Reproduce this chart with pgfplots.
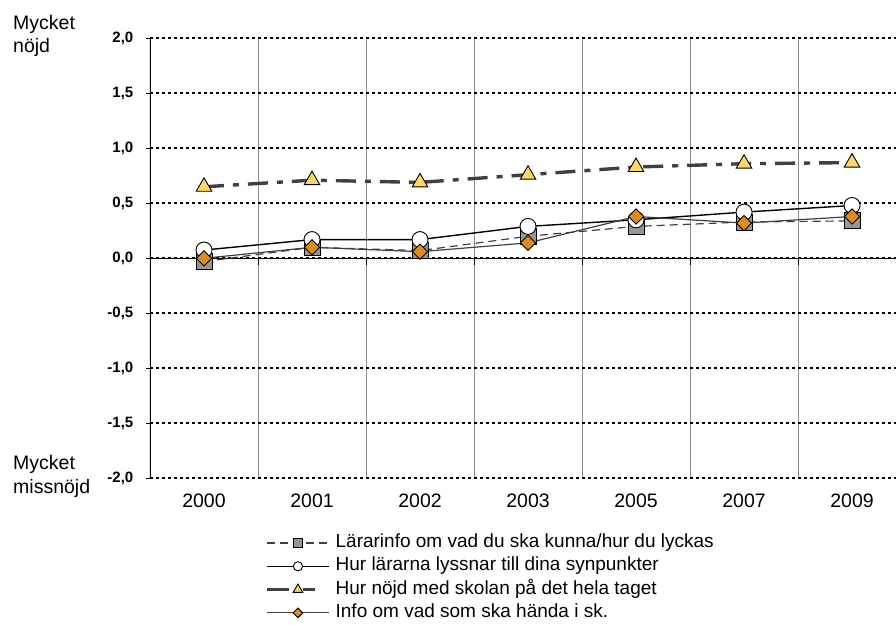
\documentclass[border=0pt]{standalone}
\usepackage{fontspec}
\setmainfont{Liberation Sans}
\usepackage{pgfplots}
\pgfplotsset{compat=1.18}
\definecolor{sqgrey}{RGB}{150,150,150}
\definecolor{trigold}{RGB}{255,215,100}
\definecolor{diaorange}{RGB}{222,140,30}
\definecolor{linegrey}{RGB}{64,64,64}
\definecolor{gridgrey}{RGB}{140,140,140}

\begin{document}
\begin{tikzpicture}[x=1bp,y=1bp]
\begin{axis}[
  at={(0,0)}, anchor=south west,
  scale only axis, width=746bp, height=440bp,
  xmin=-0.5, xmax=6.407, ymin=-2, ymax=2,
  axis line style={draw=none},
  xtick={0,1,2,3,4,5,6},
  xticklabels={2000,2001,2002,2003,2005,2007,2009},
  minor xtick={0.5,1.5,2.5,3.5,4.5,5.5},
  xtick style={draw=none}, minor tick style={draw=none},
  xminorgrids=true,
  minor x grid style={gridgrey, line width=0.9bp},
  ytick={-2,-1.5,-1,-0.5,0,0.5,1,1.5,2},
  ytick pos=left,
  ytick style={black, line width=1bp},
  tick align=center, major tick length=7bp,
  ymajorgrids=true,
  major y grid style={black, line width=1.6bp, dash pattern=on 3bp off 3bp},
  xticklabel style={font=\fontsize{19.5bp}{23bp}\selectfont, inner sep=0pt, yshift=-12bp},
  yticklabel style={font=\fontsize{15bp}{17bp}\selectfont\bfseries, inner sep=0pt, xshift=-13bp,
    /pgf/number format/.cd, fixed, fixed zerofill, precision=1, use comma, assume math mode=true},
  legend style={draw=none, fill=none, at={(0.1502,-0.1227)}, anchor=north west,
    font=\fontsize{19bp}{22bp}\selectfont,
    nodes={inner sep=0pt, text height=13bp, text depth=4bp},
    row sep=6.3bp, column sep=5bp},
  legend cell align=left,
  legend image code/.code={\draw[mark repeat=2,mark phase=2] plot coordinates {(0bp,0bp) (31bp,0bp) (62bp,0bp)};},
]
% axis line and zero line
\draw[black, line width=1.3bp] (axis cs:-0.5,-2) -- (axis cs:-0.5,2);
\draw[black, line width=1.3bp] (axis cs:-0.5,0) -- (axis cs:6.407,0);
\pgfplotsinvokeforeach{0.5,1.5,2.5,3.5,4.5,5.5}{
  \draw[black, line width=1bp] (axis cs:#1,0) -- ([yshift=-7bp]axis cs:#1,0);
}

\addplot[linegrey, line width=1.2bp, dash pattern=on 8bp off 5bp,
  mark=square*, mark size=8bp, mark options={solid, fill=sqgrey, draw=black, line width=0.9bp},
  legend image post style={mark size=4.6bp, line width=1.4bp}]
  coordinates {(0,-0.03) (1,0.10) (2,0.07) (3,0.20) (4,0.29) (5,0.33) (6,0.34)};
\addplot[black, line width=1.4bp,
  mark=*, mark size=8bp, mark options={solid, fill=white, draw=black, line width=0.9bp},
  legend image post style={mark size=4.6bp}]
  coordinates {(0,0.075) (1,0.17) (2,0.17) (3,0.29) (4,0.35) (5,0.42) (6,0.48)};
\addplot[linegrey, line width=3.4bp, dash pattern=on 20bp off 9bp on 6bp off 9bp,
  mark=triangle*, mark size=9bp, mark options={solid, fill=trigold, draw=black, line width=0.9bp},
  legend image post style={mark size=5.5bp, dash pattern=on 22bp off 14bp on 12bp off 20bp}]
  coordinates {(0,0.65) (1,0.71) (2,0.69) (3,0.76) (4,0.83) (5,0.86) (6,0.87)};
\addplot[linegrey, line width=1.2bp,
  mark=square*, mark size=5.4bp, mark options={solid, rotate=45, fill=diaorange, draw=black, line width=0.9bp},
  legend image post style={mark size=3.4bp}]
  coordinates {(0,0.0) (1,0.10) (2,0.06) (3,0.14) (4,0.38) (5,0.32) (6,0.38)};

\legend{Lärarinfo om vad du ska kunna/hur du lyckas,
  Hur lärarna lyssnar till dina synpunkter,
  Hur nöjd med skolan på det hela taget,
  Info om vad som ska hända i sk.}
\end{axis}
\begin{scope}[every node/.style={anchor=base west, inner sep=0pt, font=\fontsize{19.5bp}{23bp}\selectfont}]
\node at (-137,449) {Mycket};
\node at (-137,425.6) {nöjd};
\node at (-137,9) {Mycket};
\node at (-137,-15) {missnöjd};
\end{scope}
\pgfresetboundingbox
\path[use as bounding box] (-150,-146.7) rectangle (746,478.3);
\end{tikzpicture}
\end{document}
